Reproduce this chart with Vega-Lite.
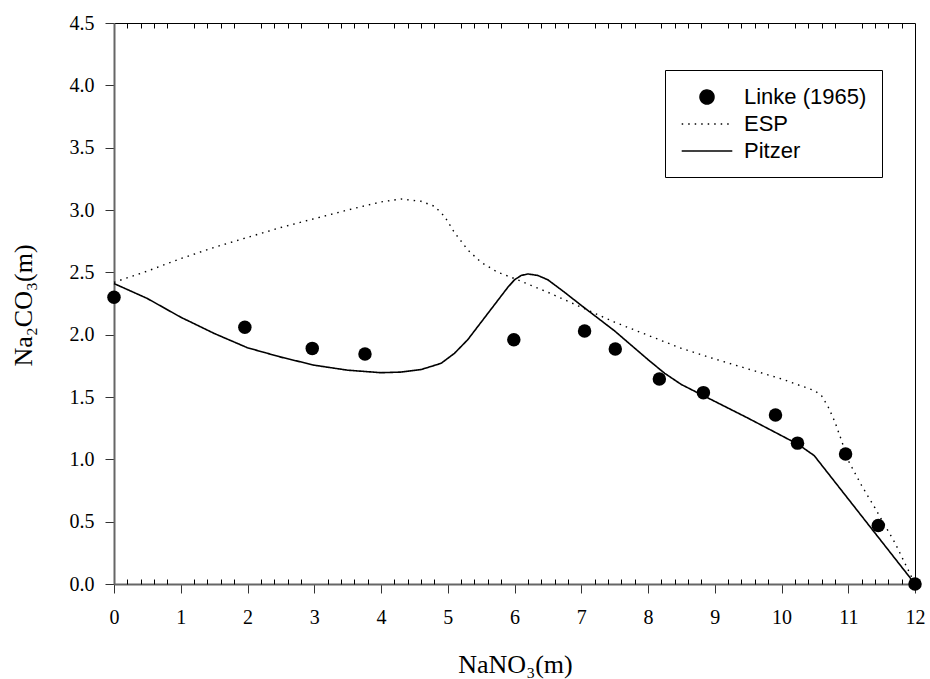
{
  "$schema": "https://vega.github.io/schema/vega-lite/v6.json",
  "autosize": "none",
  "width": 801,
  "height": 561,
  "padding": {"left": 114, "top": 23, "right": 15, "bottom": 95},
  "background": "white",
  "config": {"view": {"stroke": null}, "axis": {"grid": false}},
  "data": {"values": [
    {"series": "Linke (1965)", "x": 0, "y": 2.30},
    {"series": "Linke (1965)", "x": 1.96, "y": 2.06},
    {"series": "Linke (1965)", "x": 2.97, "y": 1.89},
    {"series": "Linke (1965)", "x": 3.76, "y": 1.845},
    {"series": "Linke (1965)", "x": 5.99, "y": 1.96},
    {"series": "Linke (1965)", "x": 7.05, "y": 2.03},
    {"series": "Linke (1965)", "x": 7.51, "y": 1.885},
    {"series": "Linke (1965)", "x": 8.17, "y": 1.644},
    {"series": "Linke (1965)", "x": 8.83, "y": 1.535},
    {"series": "Linke (1965)", "x": 9.91, "y": 1.355},
    {"series": "Linke (1965)", "x": 10.24, "y": 1.13},
    {"series": "Linke (1965)", "x": 10.96, "y": 1.043},
    {"series": "Linke (1965)", "x": 11.45, "y": 0.47},
    {"series": "Linke (1965)", "x": 12, "y": 0},
    {"series": "ESP", "x": 0, "y": 2.42},
    {"series": "ESP", "x": 0.5, "y": 2.51},
    {"series": "ESP", "x": 1.0, "y": 2.61},
    {"series": "ESP", "x": 1.5, "y": 2.70},
    {"series": "ESP", "x": 2.0, "y": 2.78},
    {"series": "ESP", "x": 2.5, "y": 2.86},
    {"series": "ESP", "x": 3.0, "y": 2.93},
    {"series": "ESP", "x": 3.5, "y": 3.00},
    {"series": "ESP", "x": 4.0, "y": 3.065},
    {"series": "ESP", "x": 4.3, "y": 3.088},
    {"series": "ESP", "x": 4.6, "y": 3.07},
    {"series": "ESP", "x": 4.8, "y": 3.03},
    {"series": "ESP", "x": 4.95, "y": 2.95},
    {"series": "ESP", "x": 5.1, "y": 2.82},
    {"series": "ESP", "x": 5.3, "y": 2.68},
    {"series": "ESP", "x": 5.5, "y": 2.58},
    {"series": "ESP", "x": 5.75, "y": 2.50},
    {"series": "ESP", "x": 6.0, "y": 2.45},
    {"series": "ESP", "x": 6.5, "y": 2.34},
    {"series": "ESP", "x": 7.0, "y": 2.22},
    {"series": "ESP", "x": 7.5, "y": 2.10},
    {"series": "ESP", "x": 8.0, "y": 1.995},
    {"series": "ESP", "x": 8.5, "y": 1.89},
    {"series": "ESP", "x": 9.0, "y": 1.805},
    {"series": "ESP", "x": 9.5, "y": 1.725},
    {"series": "ESP", "x": 10.0, "y": 1.645},
    {"series": "ESP", "x": 10.5, "y": 1.55},
    {"series": "ESP", "x": 10.6, "y": 1.51},
    {"series": "ESP", "x": 10.7, "y": 1.42},
    {"series": "ESP", "x": 10.8, "y": 1.30},
    {"series": "ESP", "x": 10.9, "y": 1.15},
    {"series": "ESP", "x": 11.0, "y": 0.99},
    {"series": "ESP", "x": 11.2, "y": 0.79},
    {"series": "ESP", "x": 11.4, "y": 0.61},
    {"series": "ESP", "x": 11.7, "y": 0.33},
    {"series": "ESP", "x": 12.0, "y": 0},
    {"series": "Pitzer", "x": 0, "y": 2.41},
    {"series": "Pitzer", "x": 0.5, "y": 2.29},
    {"series": "Pitzer", "x": 1.0, "y": 2.14},
    {"series": "Pitzer", "x": 1.5, "y": 2.01},
    {"series": "Pitzer", "x": 2.0, "y": 1.895},
    {"series": "Pitzer", "x": 2.5, "y": 1.82},
    {"series": "Pitzer", "x": 3.0, "y": 1.755},
    {"series": "Pitzer", "x": 3.5, "y": 1.715},
    {"series": "Pitzer", "x": 4.0, "y": 1.695},
    {"series": "Pitzer", "x": 4.3, "y": 1.70},
    {"series": "Pitzer", "x": 4.6, "y": 1.72},
    {"series": "Pitzer", "x": 4.9, "y": 1.77},
    {"series": "Pitzer", "x": 5.1, "y": 1.85},
    {"series": "Pitzer", "x": 5.3, "y": 1.96},
    {"series": "Pitzer", "x": 5.5, "y": 2.10},
    {"series": "Pitzer", "x": 5.7, "y": 2.24},
    {"series": "Pitzer", "x": 5.9, "y": 2.38},
    {"series": "Pitzer", "x": 6.0, "y": 2.44},
    {"series": "Pitzer", "x": 6.1, "y": 2.475},
    {"series": "Pitzer", "x": 6.2, "y": 2.487},
    {"series": "Pitzer", "x": 6.35, "y": 2.475},
    {"series": "Pitzer", "x": 6.5, "y": 2.44},
    {"series": "Pitzer", "x": 6.75, "y": 2.34},
    {"series": "Pitzer", "x": 7.0, "y": 2.235},
    {"series": "Pitzer", "x": 7.5, "y": 2.03},
    {"series": "Pitzer", "x": 8.0, "y": 1.80},
    {"series": "Pitzer", "x": 8.25, "y": 1.69},
    {"series": "Pitzer", "x": 8.5, "y": 1.60},
    {"series": "Pitzer", "x": 9.0, "y": 1.465},
    {"series": "Pitzer", "x": 9.5, "y": 1.33},
    {"series": "Pitzer", "x": 10.0, "y": 1.19},
    {"series": "Pitzer", "x": 10.25, "y": 1.12},
    {"series": "Pitzer", "x": 10.49, "y": 1.03},
    {"series": "Pitzer", "x": 12.0, "y": 0}
  ]},
  "resolve": {"axis": {"x": "independent", "y": "independent"}},
  "layer": [
    {
      "transform": [{"filter": "datum.series === 'ESP'"}],
      "mark": {"type": "line", "color": "black", "strokeWidth": 1.4},
      "encoding": {
        "x": {"field": "x", "type": "quantitative",
          "scale": {"domain": [0, 12], "nice": false, "zero": false},
          "axis": {"orient": "bottom", "title": "NaNO₃(m)", "values": [0,1,2,3,4,5,6,7,8,9,10,11,12], "format": "d",
            "domainColor": "#666", "domainWidth": 2, "tickColor": "#333", "tickSize": 9, "tickWidth": 1,
            "labelFont": "Liberation Serif", "labelFontSize": 20, "labelColor": "black", "labelPadding": 14, "labelFlush": false, "labelOverlap": false,
            "titleFont": "Liberation Serif", "titleFontSize": 26, "titleFontWeight": "normal", "titleColor": "black",
            "titleX": 401, "titleY": 88, "titleBaseline": "alphabetic", "titleAlign": "center"}},
        "y": {"field": "y", "type": "quantitative",
          "scale": {"domain": [0, 4.5], "nice": false, "zero": false},
          "axis": {"orient": "left", "title": "Na₂CO₃(m)", "values": [0,0.5,1,1.5,2,2.5,3,3.5,4,4.5], "format": ".1f",
            "domainColor": "#666", "domainWidth": 2, "tickColor": "#333", "tickSize": 9, "tickWidth": 1,
            "labelFont": "Liberation Serif", "labelFontSize": 20, "labelColor": "black", "labelPadding": 11, "labelFlush": false, "labelOverlap": false,
            "titleFont": "Liberation Serif", "titleFontSize": 26, "titleFontWeight": "normal", "titleColor": "black",
            "titleAngle": -90, "titleX": -83, "titleY": 282, "titleBaseline": "alphabetic", "titleAlign": "center"}},
        "strokeDash": {"field": "series", "type": "nominal",
          "scale": {"domain": ["Linke (1965)", "ESP", "Pitzer"], "range": [[1, 0], [1.5, 5], [1, 0]]},
          "legend": {"orient": "none", "legendX": 551, "legendY": 47, "title": null,
            "padding": 15, "strokeColor": "black", "fillColor": "white", "cornerRadius": 0,
            "symbolType": "stroke", "symbolSize": 484, "symbolStrokeColor": "black", "symbolStrokeWidth": 1.5, "symbolOffset": 15,
            "labelFont": "Liberation Sans", "labelFontSize": 22, "labelColor": "black", "labelOffset": 25, "rowPadding": 4, "labelLimit": 300,
            "encode": {"symbols": {"update": {
              "shape": {"signal": "datum.value === 'Linke (1965)' ? 'M0.636,0A0.636,0.636,0,1,1,-0.636,0A0.636,0.636,0,1,1,0.636,0Z' : 'M-2.3,0H2.3'"},
              "fill": {"signal": "datum.value === 'Linke (1965)' ? 'black' : 'transparent'"},
              "stroke": {"value": "black"},
              "strokeDash": {"signal": "datum.value === 'ESP' ? [1.5, 5] : [1, 0]"},
              "opacity": {"value": 1}
            }}}}}
      }
    },
    {
      "transform": [{"filter": "datum.series === 'Pitzer'"}],
      "mark": {"type": "line", "color": "black", "strokeWidth": 1.6},
      "encoding": {
        "x": {"field": "x", "type": "quantitative",
          "axis": {"orient": "bottom", "title": null, "labels": false, "domain": false,
            "values": [0.2,0.4,0.6,0.8,1.2,1.4,1.6,1.8,2.2,2.4,2.6,2.8,3.2,3.4,3.6,3.8,4.2,4.4,4.6,4.8,5.2,5.4,5.6,5.8,6.2,6.4,6.6,6.8,7.2,7.4,7.6,7.8,8.2,8.4,8.6,8.8,9.2,9.4,9.6,9.8,10.2,10.4,10.6,10.8,11.2,11.4,11.6,11.8],
            "tickSize": -5, "tickColor": "black", "tickWidth": 1}},
        "y": {"field": "y", "type": "quantitative",
          "axis": {"orient": "right", "title": null, "labels": false, "ticks": false, "domainColor": "black", "domainWidth": 1}},
        "strokeDash": {"field": "series", "type": "nominal"}
      }
    },
    {
      "transform": [{"filter": "datum.series === 'Linke (1965)'"}],
      "mark": {"type": "point", "shape": "circle", "filled": true, "color": "black", "opacity": 1, "size": 182},
      "encoding": {
        "x": {"field": "x", "type": "quantitative",
          "axis": {"orient": "top", "title": null, "labels": false, "domainColor": "black", "domainWidth": 1,
            "values": [0.2,0.4,0.6,0.8,1.2,1.4,1.6,1.8,2.2,2.4,2.6,2.8,3.2,3.4,3.6,3.8,4.2,4.4,4.6,4.8,5.2,5.4,5.6,5.8,6.2,6.4,6.6,6.8,7.2,7.4,7.6,7.8,8.2,8.4,8.6,8.8,9.2,9.4,9.6,9.8,10.2,10.4,10.6,10.8,11.2,11.4,11.6,11.8],
            "tickSize": -5, "tickColor": "black", "tickWidth": 1}},
        "y": {"field": "y", "type": "quantitative", "axis": null}
      }
    }
  ]
}
